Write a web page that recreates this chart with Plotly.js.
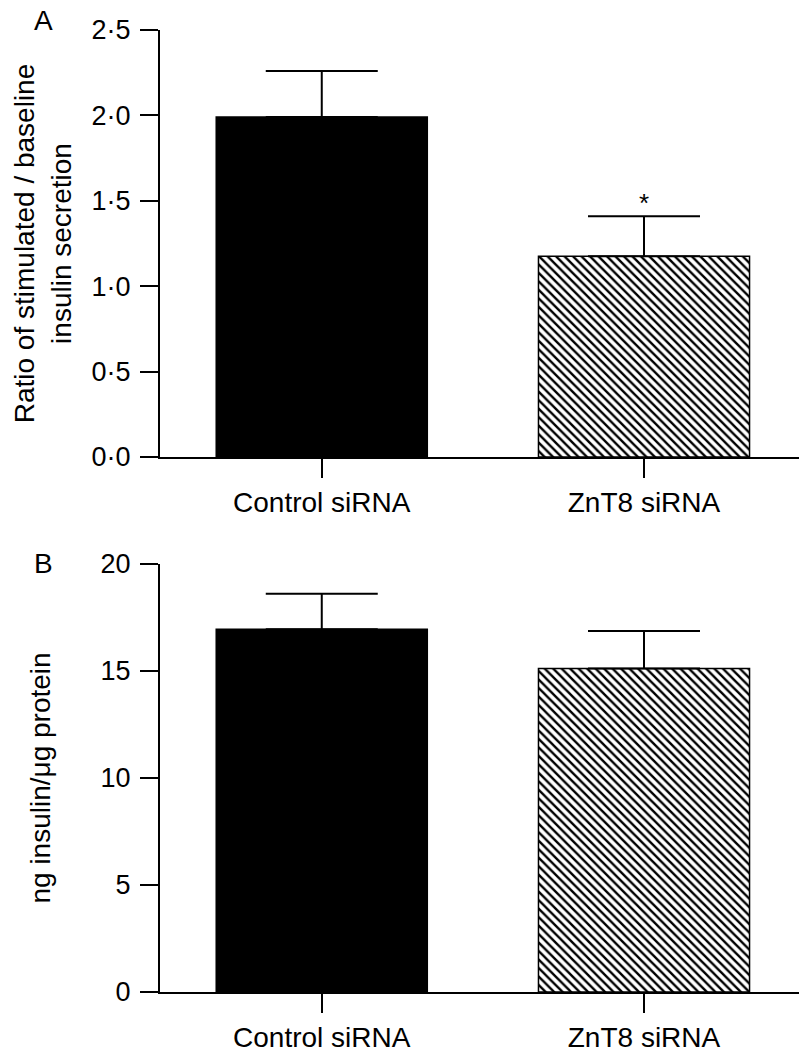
<!DOCTYPE html>
<html>
<head>
<meta charset="utf-8">
<script src="https://cdn.plot.ly/plotly-3.0.1.min.js"></script>
<style>html,body{margin:0;padding:0;background:#fff;}#chart{width:799px;height:1053px;}</style>
</head>
<body>
<div id="chart"></div>
<script>
const categories = ['Control siRNA', 'ZnT8 siRNA'];
const ratioMean = [1.99, 1.175];
const ratioSem = [0.27, 0.235];
const insulinMean = [16.95, 15.11];
const insulinSem = [1.66, 1.76];
const ratioTickVals = [0, 0.5, 1.0, 1.5, 2.0, 2.5];
const ratioTickText = ['0·0', '0·5', '1·0', '1·5', '2·0', '2·5'];
const insulinTickVals = [0, 5, 10, 15, 20];
const insulinTickText = ['0', '5', '10', '15', '20'];
const significance = ['', '*'];
const barShapes = ['', '\\'];
const barColors = ['#000000', '#ffffff'];

const FONT = 'Liberation Sans, Arial, Helvetica, sans-serif';

function barTraces(vals, errs, xa, ya) {
  return categories.map((c, i) => {
    const marker = {color: barColors[i], line: {color: '#000000', width: 1.5}};
    if (barShapes[i]) {
      marker.pattern = {shape: barShapes[i], fgcolor: '#000000', bgcolor: '#ffffff', size: 6, solidity: 0.4, fillmode: 'replace'};
    }
    return {
      type: 'bar', x: [c], y: [vals[i]], xaxis: xa, yaxis: ya, width: 0.655,
      marker: marker,
      error_y: {type: 'data', symmetric: false, array: [errs[i]], arrayminus: [0], color: '#000000', thickness: 2, width: 56},
      showlegend: false, hoverinfo: 'skip'
    };
  });
}

const data = barTraces(ratioMean, ratioSem, 'x', 'y').concat(barTraces(insulinMean, insulinSem, 'x2', 'y2'));

const axisCommon = {
  showgrid: false, zeroline: false, showline: true, linecolor: '#000', linewidth: 2,
  ticks: 'outside', tickcolor: '#000', tickwidth: 2, ticklen: 18,
  tickfont: {family: FONT, size: 27, color: '#000'}
};

const annotations = [
  {text: 'A', xref: 'paper', yref: 'paper', x: -0.183, y: 1.0, xanchor: 'center', yanchor: 'middle', showarrow: false,
   font: {family: FONT, size: 28, color: '#000'}, yshift: 10},
  {text: 'B', xref: 'paper', yref: 'paper', x: -0.183, y: 0.445, xanchor: 'center', yanchor: 'middle', showarrow: false,
   font: {family: FONT, size: 28, color: '#000'}, yshift: 0}
];
categories.forEach((c, i) => {
  if (significance[i]) {
    annotations.push({text: significance[i], xref: 'x', yref: 'y', x: c, y: ratioMean[i] + ratioSem[i],
      xanchor: 'center', yanchor: 'bottom', showarrow: false, font: {family: FONT, size: 26, color: '#000'}, yshift: -4});
  }
});

const layout = {
  width: 799, height: 1053,
  margin: {l: 160, r: 0, t: 29.5, b: 60.5},
  paper_bgcolor: '#fff', plot_bgcolor: '#fff',
  font: {family: FONT, color: '#000'},
  barmode: 'overlay',
  xaxis: Object.assign({}, axisCommon, {domain: [0, 1], anchor: 'y', type: 'category', categoryarray: categories, range: [-0.502, 1.481],
    ticklen: 19, tickfont: {family: FONT, size: 28, color: '#000'}}),
  yaxis: Object.assign({}, axisCommon, {domain: [0.5561, 1], anchor: 'x', range: [0, 2.5],
    tickvals: ratioTickVals, ticktext: ratioTickText, ticklabelstandoff: 4,
    title: {text: 'Ratio of stimulated / baseline<br>insulin secretion', font: {family: FONT, size: 28, color: '#000'}, standoff: 12}}),
  xaxis2: Object.assign({}, axisCommon, {domain: [0, 1], anchor: 'y2', type: 'category', categoryarray: categories, range: [-0.502, 1.481],
    ticklen: 19, tickfont: {family: FONT, size: 28, color: '#000'}}),
  yaxis2: Object.assign({}, axisCommon, {domain: [0, 0.445], anchor: 'x2', range: [0, 20],
    tickvals: insulinTickVals, ticktext: insulinTickText, ticklabelstandoff: 4,
    title: {text: 'ng insulin/μg protein', font: {family: FONT, size: 28, color: '#000'}, standoff: 42}}),
  annotations: annotations
};

Plotly.newPlot('chart', data, layout, {displayModeBar: false, staticPlot: true});
</script>
</body>
</html>
